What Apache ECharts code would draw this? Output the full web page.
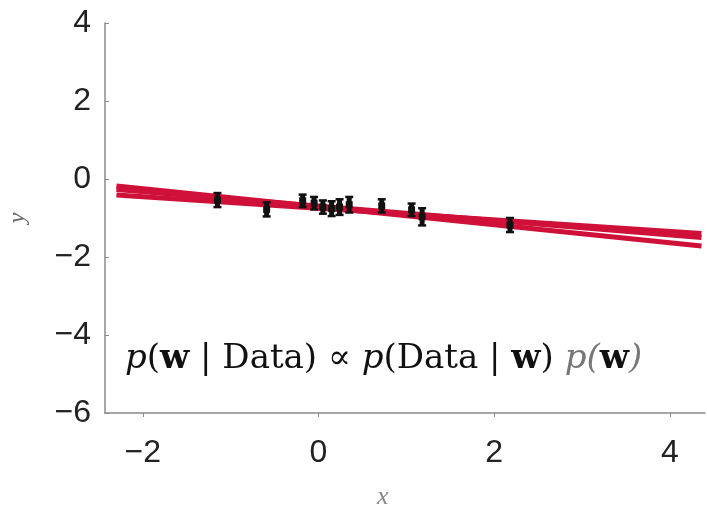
<!DOCTYPE html>
<html>
<head>
<meta charset="utf-8">
<script src="https://cdn.jsdelivr.net/npm/echarts@6/dist/echarts.min.js"></script>
<style>
  html, body { margin: 0; background: #fff; }
  #chart { width: 707px; height: 513px; }
</style>
</head>
<body>
<div id="chart"></div>
<script>
// tick labels
var xTicks = [-2, 0, 2, 4];
var yTicks = [-6, -4, -2, 0, 2, 4];

// observed data points (x, y, error half-length)
var pointX = [-1.15, -0.59, -0.18, -0.05, 0.05, 0.15, 0.24, 0.35, 0.72, 1.06, 1.18, 2.18];
var pointY = [-0.54, -0.78, -0.56, -0.62, -0.72, -0.76, -0.72, -0.66, -0.69, -0.79, -0.97, -1.18];
var pointErr = [0.18, 0.18, 0.16, 0.16, 0.17, 0.19, 0.2, 0.2, 0.17, 0.16, 0.22, 0.18];

// posterior sample lines (end points)
var lineX = [-2.3, 4.36];
var sampleA = [-0.18, -1.72];
var sampleB = [-0.41, -1.40];
var sampleC = [-0.27, -1.50];

var minus = function (v) { return String(v).replace('-', '\u2212'); };

var chart = echarts.init(document.getElementById('chart'));

var points = pointX.map(function (x, i) { return [x, pointY[i], pointErr[i]]; });
function lineData(ys) { return lineX.map(function (x, i) { return [x, ys[i]]; }); }

var redLine = function (ys) {
    return {
        type: 'line',
        data: lineData(ys),
        symbol: 'none',
        silent: true,
        lineStyle: { color: '#cf1038', width: 5 },
        z: 2
    };
};

var option = {
    animation: false,
    grid: { left: 105, right: 2, top: 23, bottom: 100, containLabel: false, outerBoundsMode: 'none' },
    xAxis: {
        type: 'value',
        min: -2.43,
        max: 4.4,
        splitLine: { show: false },
        axisLine: { onZero: false, lineStyle: { color: '#8a8a8a', width: 1.5 } },
        axisTick: { customValues: xTicks, length: 4, lineStyle: { color: '#8a8a8a' } },
        axisLabel: {
            customValues: xTicks,
            margin: 24,
            color: '#222',
            fontSize: 32,
            fontFamily: 'Liberation Sans',
            formatter: minus
        }
    },
    yAxis: {
        type: 'value',
        min: -6,
        max: 4,
        interval: 2,
        splitLine: { show: false },
        axisLine: { show: true, onZero: false, lineStyle: { color: '#8a8a8a', width: 1.5 } },
        axisTick: { show: true, inside: true, length: 4, lineStyle: { color: '#8a8a8a' } },
        axisLabel: {
            margin: 14,
            color: '#222',
            fontSize: 32,
            fontFamily: 'Liberation Sans',
            formatter: minus
        },
        name: 'y',
        nameLocation: 'middle',
        nameRotate: 90,
        nameGap: 75,
        nameTextStyle: { color: '#666', fontSize: 24, fontStyle: 'italic', fontFamily: 'Liberation Serif' }
    },
    graphic: [{
        type: 'text',
        left: 377,
        top: 484,
        style: { text: 'x', fill: '#888', font: 'italic 26px "Liberation Serif"' }
    }, {
        type: 'text',
        left: 125,
        top: 342,
        style: {
            text: '{i|p}({b|w} | Data) \u221D {i|p}(Data | {b|w}) {g|p(}{b|w}{g|)}',
            fill: '#111',
            font: '34px "DejaVu Serif"',
            rich: {
                i: { fontStyle: 'italic', fontSize: 34, fontFamily: 'DejaVu Serif', fill: '#111' },
                b: { fontWeight: 'bold', fontSize: 34, fontFamily: 'DejaVu Serif', fill: '#111' },
                g: { fontStyle: 'italic', fontSize: 34, fontFamily: 'DejaVu Serif', fill: '#777' }
            }
        }
    }],
    series: [
        redLine(sampleA),
        redLine(sampleB),
        redLine(sampleC),
        {
            type: 'custom',
            data: points,
            z: 5,
            renderItem: function (params, api) {
                var x = api.value(0), y = api.value(1), e = api.value(2);
                var top = api.coord([x, y + e]);
                var bot = api.coord([x, y - e]);
                var mid = api.coord([x, y]);
                var st = { stroke: '#111', lineWidth: 5 };
                return {
                    type: 'group',
                    children: [
                        { type: 'line', shape: { x1: top[0], y1: top[1], x2: bot[0], y2: bot[1] }, style: st },
                        { type: 'line', shape: { x1: top[0] - 4, y1: top[1], x2: top[0] + 4, y2: top[1] }, style: { stroke: '#111', lineWidth: 2.5 } },
                        { type: 'line', shape: { x1: bot[0] - 4, y1: bot[1], x2: bot[0] + 4, y2: bot[1] }, style: { stroke: '#111', lineWidth: 2.5 } },
                        { type: 'rect', shape: { x: mid[0] - 3.5, y: mid[1] - 3.5, width: 7, height: 7 }, style: { fill: '#111' } }
                    ]
                };
            }
        }
    ]
};

chart.setOption(option);
</script>
</body>
</html>
